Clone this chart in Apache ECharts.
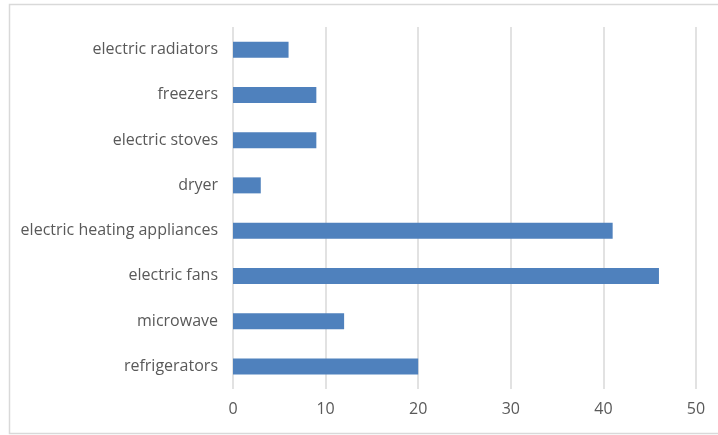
<!DOCTYPE html>
<html>
<head>
<meta charset="utf-8">
<script src="https://cdn.jsdelivr.net/npm/echarts@6/dist/echarts.min.js"></script>
<style>
  html, body { margin: 0; padding: 0; background: #fff; }
  #chart { width: 718px; height: 435px; }
</style>
</head>
<body>
<div id="chart"></div>
<script>
// Appliance categories, listed bottom-to-top along the vertical axis
const categories = [
  'refrigerators',
  'microwave',
  'electric fans',
  'electric heating appliances',
  'dryer',
  'electric stoves',
  'freezers',
  'electric radiators'
];
const values = [20, 12, 46, 41, 3, 9, 9, 6];
const xTicks = [0, 10, 20, 30, 40, 50];

const textColor = '#595959';
const gridColor = '#d9d9d9';
const fontFamily = '"Open Sans", Lato, sans-serif';

const chart = echarts.init(document.getElementById('chart'), null, { renderer: 'canvas' });
chart.setOption({
  animation: false,
  backgroundColor: '#fff',
  graphic: [{
    type: 'rect',
    shape: { x: 9.5, y: 4.5, width: 720, height: 429 },
    style: { fill: 'none', stroke: gridColor, lineWidth: 1.5 },
    silent: true
  }],
  grid: { left: 233, right: 22, top: 27, bottom: 46, containLabel: false },
  xAxis: {
    type: 'value',
    min: xTicks[0],
    max: xTicks[xTicks.length - 1],
    interval: 10,
    axisLine: { show: false },
    axisTick: { show: false },
    splitLine: { lineStyle: { color: gridColor, width: 1.5 } },
    axisLabel: { color: textColor, fontSize: 16, fontFamily, margin: 12 }
  },
  yAxis: {
    type: 'category',
    data: categories,
    axisLine: { show: false },
    axisTick: { show: false },
    axisLabel: { color: textColor, fontSize: 16, fontFamily, margin: 15 }
  },
  series: [{
    type: 'bar',
    data: values,
    barWidth: 16,
    itemStyle: { color: '#4f81bd' }
  }]
});
</script>
</body>
</html>
